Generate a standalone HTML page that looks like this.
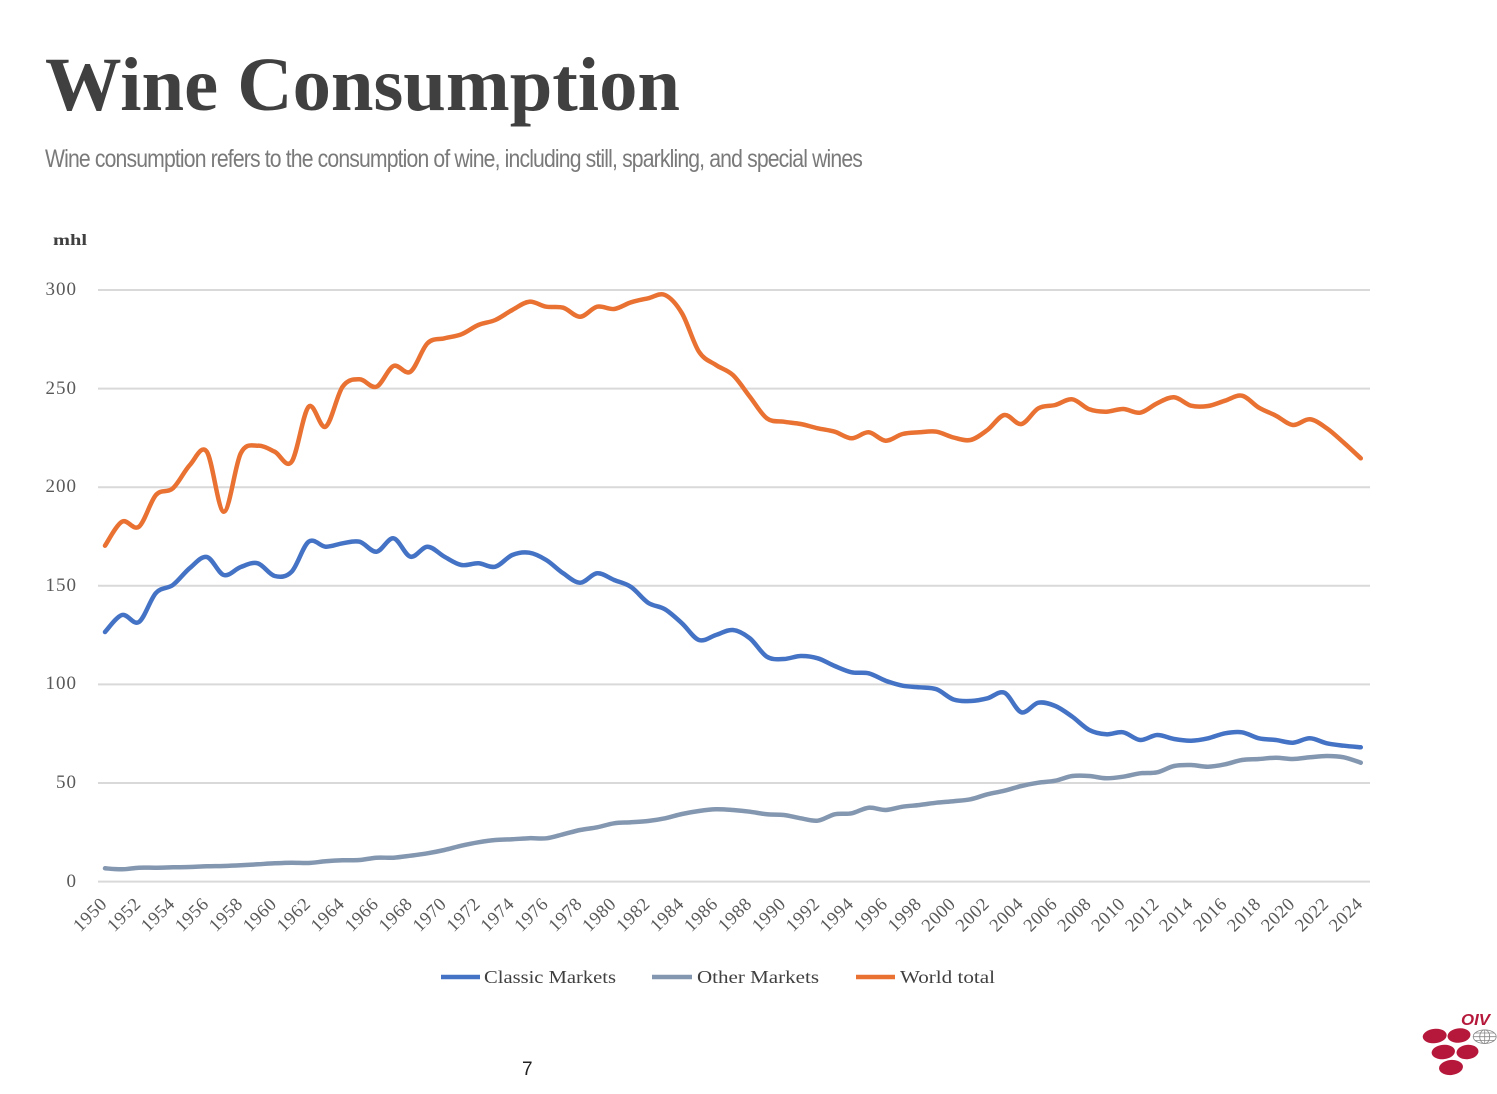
<!DOCTYPE html>
<html><head><meta charset="utf-8"><style>
html,body{margin:0;padding:0;background:#fff;}
svg{display:block;}
</style></head><body>
<svg id="s" width="1497" height="1094" viewBox="0 0 1497 1094" xmlns="http://www.w3.org/2000/svg">
<rect width="1497" height="1094" fill="#fff"/>
<text x="45" y="110" font-family="Liberation Serif, serif" font-weight="bold" font-size="76" fill="#404040" textLength="635" lengthAdjust="spacingAndGlyphs">Wine Consumption</text>
<text x="45" y="167" font-family="Liberation Sans, sans-serif" font-size="25" fill="#7a7a7a" textLength="817" lengthAdjust="spacingAndGlyphs" letter-spacing="-1">Wine consumption refers to the consumption of wine, including still, sparkling, and special wines</text>
<text x="53" y="245" font-family="Liberation Serif, serif" font-weight="bold" font-size="16" fill="#404040" textLength="34" lengthAdjust="spacingAndGlyphs">mhl</text>
<g stroke="#d9d9d9" stroke-width="2">
<line x1="98" y1="290" x2="1370" y2="290"/>
<line x1="98" y1="388.6" x2="1370" y2="388.6"/>
<line x1="98" y1="487.2" x2="1370" y2="487.2"/>
<line x1="98" y1="585.8" x2="1370" y2="585.8"/>
<line x1="98" y1="684.4" x2="1370" y2="684.4"/>
<line x1="98" y1="783" x2="1370" y2="783"/>
<line x1="98" y1="881.6" x2="1370" y2="881.6"/>
</g>
<g font-family="Liberation Serif, serif" font-size="19" fill="#595959" text-anchor="end" letter-spacing="1">
<text x="77" y="295">300</text>
<text x="77" y="394">250</text>
<text x="77" y="492">200</text>
<text x="77" y="591">150</text>
<text x="77" y="689">100</text>
<text x="77" y="788">50</text>
<text x="77" y="887">0</text>
</g>
<g id="xl" font-family="Liberation Serif, serif" font-size="18.5" fill="#595959" text-anchor="end"></g>
<g transform="translate(105,0) scale(16.97,1)" fill="none" stroke-width="4.5" stroke-linejoin="round" stroke-linecap="round">
<path id="pg" vector-effect="non-scaling-stroke" stroke="#8497b0" d=""/>
<path id="pb" vector-effect="non-scaling-stroke" stroke="#4472c4" d=""/>
<path id="po" vector-effect="non-scaling-stroke" stroke="#e97132" d=""/>
</g>
<g stroke-width="4.5">
<line x1="441" y1="977" x2="480" y2="977" stroke="#4472c4"/>
<line x1="652" y1="977" x2="692" y2="977" stroke="#8497b0"/>
<line x1="856" y1="977" x2="895" y2="977" stroke="#e97132"/>
</g>
<g font-family="Liberation Serif, serif" font-size="18" fill="#404040">
<text x="484" y="983" textLength="132" lengthAdjust="spacingAndGlyphs">Classic Markets</text>
<text x="697" y="983" textLength="122" lengthAdjust="spacingAndGlyphs">Other Markets</text>
<text x="900" y="983" textLength="95" lengthAdjust="spacingAndGlyphs">World total</text>
</g>
<text x="522" y="1075" font-family="Liberation Sans, sans-serif" font-size="19" fill="#222">7</text>
<g fill="#b5183a">
<ellipse cx="1434.7" cy="1036" rx="12" ry="7.2" transform="rotate(-6 1434.7 1036)"/>
<ellipse cx="1459" cy="1035.5" rx="11.5" ry="7.2" transform="rotate(-6 1459 1035.5)"/>
<ellipse cx="1443.3" cy="1052" rx="11.7" ry="7.2" transform="rotate(-6 1443.3 1052)"/>
<ellipse cx="1467.5" cy="1052" rx="11" ry="7.2" transform="rotate(-6 1467.5 1052)"/>
<ellipse cx="1451" cy="1067.5" rx="12" ry="7.5" transform="rotate(-6 1451 1067.5)"/>
</g>
<g fill="none" stroke="#888" stroke-width="0.8">
<ellipse cx="1484.7" cy="1036.7" rx="11.5" ry="6.8"/>
<ellipse cx="1484.7" cy="1036.7" rx="5" ry="6.8"/>
<line x1="1473.2" y1="1036.7" x2="1496.2" y2="1036.7"/>
<line x1="1484.7" y1="1029.9" x2="1484.7" y2="1043.5"/>
<line x1="1475" y1="1033" x2="1494.4" y2="1033"/>
<line x1="1475" y1="1040.4" x2="1494.4" y2="1040.4"/>
</g>
<text x="1461" y="1025" font-family="Liberation Sans, sans-serif" font-style="italic" font-weight="bold" font-size="15.5" fill="#b5183a" textLength="29" lengthAdjust="spacingAndGlyphs">OIV</text>
</svg>
<script>
(function(){
var O=[545.7,521.7,526.7,495,488.3,465,451.7,511.7,453.3,445.7,451.7,461.7,406.7,426.7,386.7,379.3,386.7,366,371.7,343.3,338.3,334.3,325,320,310,301.7,306.7,307.7,316.7,306.7,309,302.3,298.3,295,313.3,351.7,365,375,396.7,418.3,421.7,424,428.3,431.7,438.3,432.3,440.7,434,432.3,431.7,437.5,440,430,415,424,408.3,405,399.3,409.3,411.7,409,412.7,403.3,397.3,405.7,406,400.7,395.7,407.7,415.7,425,419.3,428.3,442.7,458.3];
var B=[632,615,622,593,585,568,557,575,567,563.3,576,571.7,541.7,546.7,543.3,541.7,551.7,538.3,556.7,546.7,556.7,565,563.3,566.7,555,552.7,560,573.3,582.7,573.3,580,587,602.7,609.3,623.3,640,635,630,638.3,656.7,659,656,658.3,666,672.3,673.3,680.7,685.7,687.3,689.3,699.5,701,698.3,692.7,712.3,702.7,706,716.7,730,734.3,732.3,740,735,739,740.7,738.3,733.3,732.3,738.3,740,742.7,738.3,743.3,745.7,747.3];
var G=[868.3,869.3,867.7,867.7,867.3,867,866.3,866,865.3,864.3,863.3,862.7,863,861.3,860.3,860,857.7,857.7,855.7,853.3,850,845.7,842.3,840,839.3,838.2,838.3,834.3,830,827.3,823.3,822.3,821,818.3,814,811,809.3,810,811.7,814.3,815,818.3,820.7,814.3,813.3,807.7,810,806.7,805,802.7,801.2,799.3,794.3,790.7,786,782.7,780.7,776,776,778.3,776.7,773.3,772.3,766,765,766.7,764.3,760,759,757.7,759,757.3,756,757.3,762.7];
function path(a){
 var d="M0 "+a[0];
 for(var i=0;i<a.length-1;i++){
  var p0=a[i>0?i-1:i],p1=a[i],p2=a[i+1],p3=a[i+2<a.length?i+2:i+1];
  var x0=i>0?i-1:i,x3=i+2<a.length?i+2:i+1;
  var c1x=i+(i+1-x0)/6,c1y=p1+(p2-p0)/6;
  var c2x=i+1-(x3-i)/6,c2y=p2-(p3-p1)/6;
  d+=" C"+c1x.toFixed(3)+" "+c1y.toFixed(2)+" "+c2x.toFixed(3)+" "+c2y.toFixed(2)+" "+(i+1)+" "+p2;
 }
 return d;
}
document.getElementById("po").setAttribute("d",path(O));
document.getElementById("pb").setAttribute("d",path(B));
document.getElementById("pg").setAttribute("d",path(G));
var xl=document.getElementById("xl"),ns="http://www.w3.org/2000/svg";
for(var y=1950;y<=2024;y+=2){
 var x=105+(y-1950)*16.97+3, yy=905;
 var t=document.createElementNS(ns,"text");
 t.setAttribute("x",x);t.setAttribute("y",yy);
 t.setAttribute("transform","rotate(-45 "+x+" "+yy+")");
 t.setAttribute("letter-spacing","0.5");
 t.textContent=y;xl.appendChild(t);
}
})();
</script>
</body></html>
